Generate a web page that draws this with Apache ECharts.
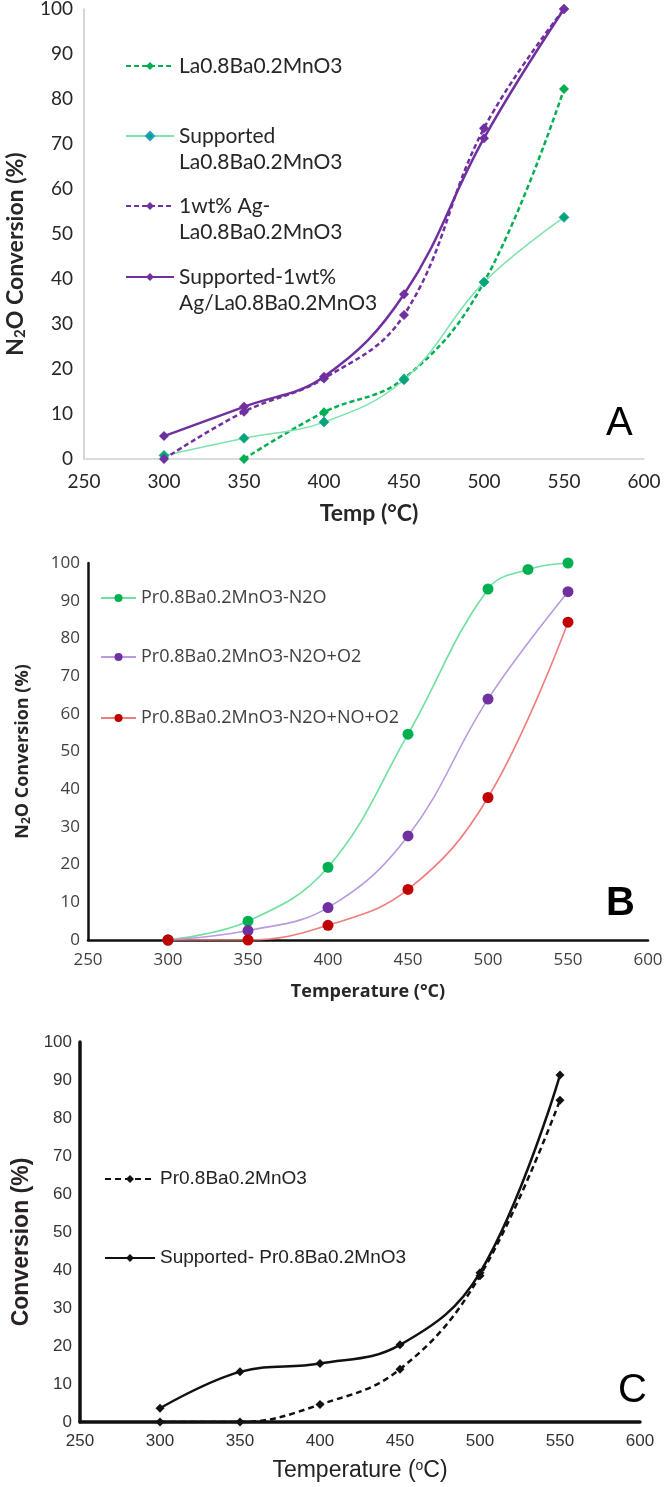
<!DOCTYPE html>
<html>
<head>
<meta charset="utf-8">
<script src="https://cdn.jsdelivr.net/npm/echarts@6/dist/echarts.min.js"></script>
<style>
  html, body { margin: 0; padding: 0; background: #fff; }
  #chart { width: 666px; height: 1487px; }
</style>
</head>
<body>
<div id="chart"></div>
<script>
// panel A
var tempsA = [300, 350, 400, 450, 500, 550];
var laBa = [null, 0, 10.4, 17.9, 39.3, 82.2];
var supLaBa = [0.8, 4.6, 8.2, 17.6, 39.3, 53.7];
var agLaBa = [0, 10.5, 17.9, 32.0, 73.5, 100];
var supAgLaBa = [5.1, 11.6, 18.3, 36.6, 71.3, 100];

// panel B
var tempsB = [300, 350, 400, 450, 500, 525, 550];
var prN2O = [0, 5.0, 19.3, 54.6, 93.1, 98.3, 100];
var prN2OO2 = [0, 2.5, 8.6, 27.6, 63.9, null, 92.4];
var prN2ONOO2 = [0, 0, 3.9, 13.4, 37.8, null, 84.3];

// panel C
var tempsC = [300, 350, 400, 450, 500, 550];
var prBa = [0, 0, 4.6, 13.9, 38.5, 84.7];
var supPrBa = [3.6, 13.2, 15.4, 20.3, 39.3, 91.3];

var xTicks = { min: 250, max: 600, interval: 50 };
var yTicks = { min: 0, max: 100, interval: 10 };

function pairs(xs, ys) {
  var out = [];
  for (var i = 0; i < xs.length; i++) {
    if (ys[i] !== null) out.push([xs[i], ys[i]]);
  }
  return out;
}

var nameA1 = 'La0.8Ba0.2MnO3';
var nameA2 = 'Supported\nLa0.8Ba0.2MnO3';
var nameA3 = '1wt% Ag-\nLa0.8Ba0.2MnO3';
var nameA4 = 'Supported-1wt%\nAg/La0.8Ba0.2MnO3';
var nameB1 = 'Pr0.8Ba0.2MnO3-N2O';
var nameB2 = 'Pr0.8Ba0.2MnO3-N2O+O2';
var nameB3 = 'Pr0.8Ba0.2MnO3-N2O+NO+O2';
var nameC1 = 'Pr0.8Ba0.2MnO3';
var nameC2 = 'Supported- Pr0.8Ba0.2MnO3';

var fontA = 'Lato, "Open Sans", sans-serif';
var fontB = '"Open Sans", Lato, sans-serif';
var fontC = '"Liberation Sans Narrow", "Liberation Sans", Arial, sans-serif';
var fontArial = 'Arial, "Liberation Sans", sans-serif';

function xAxisOf(grid, opts) {
  return Object.assign({
    type: 'value', gridIndex: grid,
    min: xTicks.min, max: xTicks.max, interval: xTicks.interval,
    splitLine: { show: false }, axisTick: { show: false },
    nameLocation: 'middle'
  }, opts);
}
function yAxisOf(grid, opts) {
  return Object.assign({
    type: 'value', gridIndex: grid,
    min: yTicks.min, max: yTicks.max, interval: yTicks.interval,
    splitLine: { show: false }, axisTick: { show: false },
    nameLocation: 'middle', nameRotate: 90
  }, opts);
}

// marker sits on the first text line: an empty line above keeps it centred there
function firstLine(name) {
  return name.indexOf('\n') >= 0 ? '\n' + name : name;
}

function legendAt(name, left, top, iconW, font, size, color, lh) {
  return {
    data: [name], left: left, top: top, orient: 'vertical',
    itemWidth: iconW, itemHeight: 10, itemGap: 0, padding: 0,
    selectedMode: false, formatter: firstLine,
    textStyle: { fontFamily: font, fontSize: size, color: color, lineHeight: lh }
  };
}

var chart = echarts.init(document.getElementById('chart'), null, { renderer: 'canvas' });

var option = {
  animation: false,
  backgroundColor: '#fff',
  grid: [
    { left: 84, top: 9, width: 560, height: 450, containLabel: false, outerBoundsMode: 'none' },
    { left: 88, top: 563, width: 560, height: 377, containLabel: false, outerBoundsMode: 'none' },
    { left: 80, top: 1042, width: 560, height: 380, containLabel: false, outerBoundsMode: 'none' }
  ],
  xAxis: [
    xAxisOf(0, {
      axisLine: { lineStyle: { color: '#d0d0d0', width: 1.5 } },
      axisLabel: { color: '#262626', fontFamily: fontA, fontSize: 19, margin: 13 },
      name: 'Temp (°C)', nameGap: 43,
      nameTextStyle: { color: '#262626', fontFamily: fontA, fontSize: 23, fontWeight: 'bold', padding: [0, 0, 0, 10] }
    }),
    xAxisOf(1, {
      axisLine: { lineStyle: { color: '#111', width: 2.5 } },
      axisLabel: { color: '#404040', fontFamily: fontB, fontSize: 17, margin: 12 },
      name: 'Temperature (°C)', nameGap: 43,
      nameTextStyle: { color: '#262626', fontFamily: fontB, fontSize: 18, fontWeight: 'bold' }
    }),
    xAxisOf(2, {
      axisLine: { lineStyle: { color: '#111', width: 3.5 } },
      axisLabel: { color: '#333', fontFamily: fontC, fontSize: 17, margin: 11 },
      name: 'Temperature ({sup|o}C)', nameGap: 37,
      nameTextStyle: {
        color: '#222', fontFamily: fontArial, fontSize: 23,
        rich: { sup: { fontSize: 14, verticalAlign: 'top', padding: [0, 0, 10, 0] } }
      }
    })
  ],
  yAxis: [
    yAxisOf(0, {
      axisLine: { show: true, lineStyle: { color: '#c8c8c8', width: 1.5 } },
      axisLabel: { color: '#262626', fontFamily: fontA, fontSize: 19, margin: 11 },
      name: '{b|N}{s|2}{b|O Conversion (%)}', nameGap: 56,
      nameTextStyle: {
        padding: [0, 40, 0, 0],
        rich: {
          b: { color: '#262626', fontFamily: fontA, fontSize: 23, fontWeight: 'bold' },
          s: { color: '#262626', fontFamily: fontA, fontSize: 15, fontWeight: 'bold', padding: [10, 0, 0, 0] }
        }
      }
    }),
    yAxisOf(1, {
      axisLine: { show: true, lineStyle: { color: '#111', width: 2.5 } },
      axisLabel: { color: '#404040', fontFamily: fontB, fontSize: 17, margin: 8 },
      name: '{b|N}{s|2}{b|O Conversion (%)}', nameGap: 55,
      nameTextStyle: {
        rich: {
          b: { color: '#262626', fontFamily: fontB, fontSize: 18, fontWeight: 'bold' },
          s: { color: '#262626', fontFamily: fontB, fontSize: 12, fontWeight: 'bold', padding: [8, 0, 0, 0] }
        }
      }
    }),
    yAxisOf(2, {
      axisLine: { show: true, lineStyle: { color: '#111', width: 3.5 } },
      axisLabel: { color: '#333', fontFamily: fontC, fontSize: 17, margin: 8 },
      name: 'Conversion (%)', nameGap: 40,
      nameTextStyle: { color: '#2a2222', fontFamily: fontArial, fontSize: 23, fontWeight: 'bold', padding: [0, 20, 0, 0] }
    })
  ],
  legend: [
    legendAt(nameA1, 125, 53, 48, fontA, 21, '#262626', 26),
    legendAt(nameA2, 125, 97, 48, fontA, 21, '#262626', 26),
    legendAt(nameA3, 125, 167, 48, fontA, 21, '#262626', 26),
    legendAt(nameA4, 125, 238, 48, fontA, 21, '#262626', 26),
    legendAt(nameB1, 100, 588, 35, fontB, 18, '#404040', 20),
    legendAt(nameB2, 100, 647, 35, fontB, 18, '#404040', 20),
    legendAt(nameB3, 100, 708, 35, fontB, 18, '#404040', 20),
    legendAt(nameC1, 104, 1169, 50, fontC, 19, '#222', 20),
    legendAt(nameC2, 104, 1248, 50, fontC, 19, '#222', 20)
  ],
  graphic: [
    { type: 'text', left: 606, top: 404, style: { text: 'A', fontFamily: fontArial, fontSize: 40, fill: '#000' } },
    { type: 'text', left: 606, top: 884, style: { text: 'B', fontFamily: fontArial, fontSize: 40, fontWeight: 'bold', fill: '#000' } },
    { type: 'text', left: 618, top: 1371, style: { text: 'C', fontFamily: fontArial, fontSize: 40, fill: '#000' } }
  ],
  series: [
    {
      name: nameA1, type: 'line', xAxisIndex: 0, yAxisIndex: 0, smooth: 0.4,
      data: pairs(tempsA, laBa), symbol: 'diamond', symbolSize: 10,
      lineStyle: { color: '#00b050', width: 2.5, type: [5, 3] },
      itemStyle: { color: '#00b050' }
    },
    {
      name: nameA2, type: 'line', xAxisIndex: 0, yAxisIndex: 0, smooth: 0.4,
      data: pairs(tempsA, supLaBa), symbol: 'diamond', symbolSize: 10,
      lineStyle: { color: '#7ee3ac', width: 1.5 },
      itemStyle: { color: '#00a870', borderColor: '#2a9cc8', borderWidth: 0.8 }
    },
    {
      name: nameA3, type: 'line', xAxisIndex: 0, yAxisIndex: 0, smooth: 0.4,
      data: pairs(tempsA, agLaBa), symbol: 'diamond', symbolSize: 10,
      lineStyle: { color: '#7030a0', width: 2.5, type: [5, 3] },
      itemStyle: { color: '#7030a0' }
    },
    {
      name: nameA4, type: 'line', xAxisIndex: 0, yAxisIndex: 0, smooth: 0.4,
      data: pairs(tempsA, supAgLaBa), symbol: 'diamond', symbolSize: 10,
      lineStyle: { color: '#7030a0', width: 2.5 },
      itemStyle: { color: '#7030a0' }
    },
    {
      name: nameB1, type: 'line', xAxisIndex: 1, yAxisIndex: 1, smooth: 0.4,
      data: pairs(tempsB, prN2O), symbol: 'circle', symbolSize: 11, clip: false,
      lineStyle: { color: '#6fe0a0', width: 1.6 },
      itemStyle: { color: '#00b050' }
    },
    {
      name: nameB2, type: 'line', xAxisIndex: 1, yAxisIndex: 1, smooth: 0.4,
      data: pairs(tempsB, prN2OO2), symbol: 'circle', symbolSize: 11,
      lineStyle: { color: '#b89ae0', width: 1.6 },
      itemStyle: { color: '#7030a0' }
    },
    {
      name: nameB3, type: 'line', xAxisIndex: 1, yAxisIndex: 1, smooth: 0.4,
      data: pairs(tempsB, prN2ONOO2), symbol: 'circle', symbolSize: 11,
      lineStyle: { color: '#f07c7c', width: 1.6 },
      itemStyle: { color: '#c00000' }
    },
    {
      name: nameC1, type: 'line', xAxisIndex: 2, yAxisIndex: 2, smooth: 0.4,
      data: pairs(tempsC, prBa), symbol: 'diamond', symbolSize: 9,
      lineStyle: { color: '#111', width: 2.5, type: [6, 4] },
      itemStyle: { color: '#111' }
    },
    {
      name: nameC2, type: 'line', xAxisIndex: 2, yAxisIndex: 2, smooth: 0.4,
      data: pairs(tempsC, supPrBa), symbol: 'diamond', symbolSize: 9,
      lineStyle: { color: '#111', width: 2.5 },
      itemStyle: { color: '#111' }
    }
  ]
};

chart.setOption(option);
</script>
</body>
</html>
